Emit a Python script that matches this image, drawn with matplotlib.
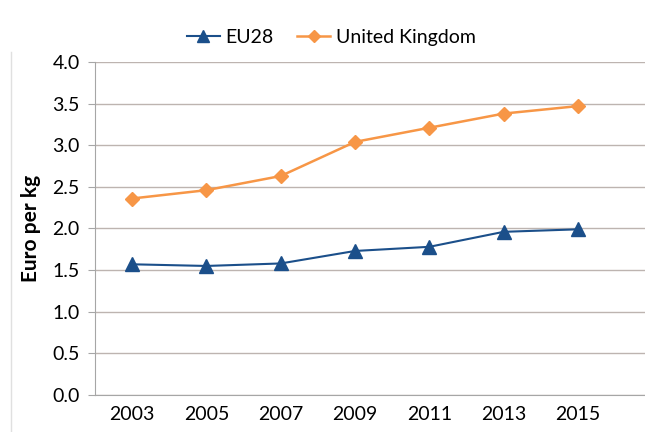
import matplotlib
matplotlib.use("Agg")
import matplotlib.pyplot as plt
from matplotlib.lines import Line2D

years = ["2003", "2005", "2007", "2009", "2011", "2013", "2015"]
eu28 = [1.57, 1.55, 1.58, 1.73, 1.78, 1.96, 1.99]
uk = [2.36, 2.46, 2.63, 3.04, 3.21, 3.38, 3.47]
yticks = [0.0, 0.5, 1.0, 1.5, 2.0, 2.5, 3.0, 3.5, 4.0]

plt.rcParams['font.family'] = ['Lato', 'DejaVu Sans']

fig = plt.figure(figsize=(6.45, 4.32), dpi=100)
ax = fig.add_axes([0.147, 0.0856, 0.853, 0.771])

x = list(range(len(years)))
ax.plot(x, eu28, color='#1b4f8a', lw=1.5, marker='^', markersize=10, label='EU28')
ax.plot(x, uk, color='#f79646', lw=1.8, marker='D', markersize=7.5, label='United Kingdom')

ax.set_xlim(-0.5, 6.9)
ax.set_ylim(0, 4.0)
ax.set_yticks(yticks)
ax.set_yticklabels([f'{v:.1f}' for v in yticks])
ax.set_xticks(x)
ax.set_xticklabels(years)
ax.yaxis.grid(True, color='#bdb4b0', lw=1)
ax.set_axisbelow(True)
for s in ['top', 'right']:
    ax.spines[s].set_visible(False)
ax.spines['left'].set_color('#a6a6a6')
ax.spines['bottom'].set_color('#a6a6a6')
ax.tick_params(axis='y', length=5, color='#a6a6a6', labelsize=14, pad=6)
ax.tick_params(axis='x', length=0, labelsize=14, pad=8)
ax.set_ylabel('Euro per kg', fontsize=15, fontweight='bold', labelpad=8)

ax.legend(loc='lower center', bbox_to_anchor=(0.43, 0.995), ncol=2, frameon=False,
          fontsize=14, handlelength=1.7, handletextpad=0.3, columnspacing=1.2,
          markerscale=0.85)

fig.add_artist(Line2D([0.017, 0.017], [0.0, 0.88], color='#e0e0e0', lw=1))

fig.savefig('out.png', dpi=100)
